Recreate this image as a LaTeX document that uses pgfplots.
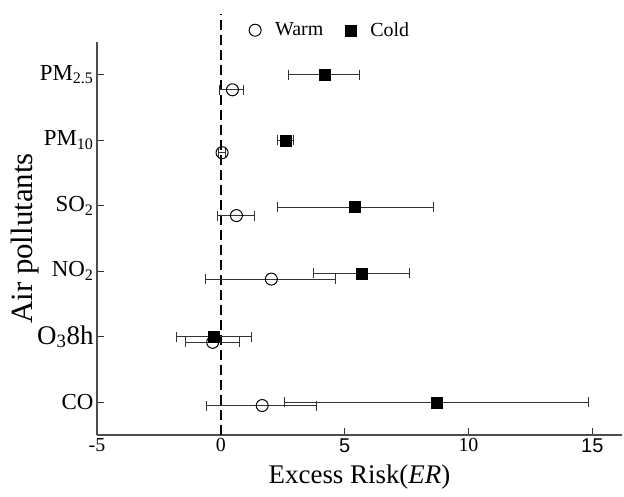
\documentclass[border=0pt]{standalone}
\usepackage{fontspec}
\setmainfont{Liberation Serif}
\setsansfont{Liberation Sans}
\usepackage{pgfplots}
\pgfplotsset{compat=1.18}
\begin{document}
\begin{tikzpicture}
\useasboundingbox (-97bp,-62bp) rectangle (527bp,435bp);
\begin{axis}[
 at={(0,0)}, anchor=south west,
 width=525bp, height=393bp, scale only axis,
 xmin=-5, xmax=16.2, ymin=-0.5, ymax=5.5,
 axis x line*=bottom, axis y line*=left,
 axis line style={line width=1.3bp, black!70},
 xtick={-5,0,5,10,15},
 xticklabels={{\textrm{-5}},{\textrm{0}},{\textsf{5}},{\textrm{10}},{\textsf{15}}},
 ytick={0,1,2,3,4,5},
 yticklabels={CO,{\fontsize{27}{30}\selectfont O\textsubscript{3}8h},NO\textsubscript{2},SO\textsubscript{2},PM\textsubscript{10},PM\textsubscript{2.5}},
 tick style={black!80, line width=1bp},
 major tick length=7bp,
 tick align=inside,
 xticklabel style={font=\fontsize{20}{22}\selectfont},
 yticklabel style={font=\fontsize{23}{26}\selectfont},
 xlabel={Excess Risk(\textit{ER})},
 ylabel={Air pollutants},
 xlabel style={font=\fontsize{27}{30}\selectfont, yshift=-6bp},
 ylabel style={font=\fontsize{31}{34}\selectfont},
 ylabel shift=-9bp,
 clip=false,
 legend columns=2,
 legend style={at={(0.444,1.03)}, anchor=center, draw=none, fill=none,
   font=\fontsize{20}{22}\selectfont,
   /tikz/every even column/.append style={column sep=20bp}},
]
% dashed reference line at ER = 0
\addplot[black, line width=2.2bp, dash pattern=on 10bp off 5bp, forget plot]
  coordinates {(0,-0.5) (0,5.92)};
% Warm
\addplot[only marks, mark=o, mark size=6bp, black, mark options={fill=white, line width=1bp},
  error bars/.cd, x dir=both, x explicit, error mark=|,
  error bar style={line width=1bp, black!80},
  error mark options={black!80, line width=1bp, mark size=5bp}]
  table[x=x, y=y, x error plus=ep, x error minus=em] {
x y ep em
0.47 4.77 0.43 0.54
0.05 3.81 0.15 0.15
0.63 2.85 0.73 0.76
2.04 1.88 2.61 2.64
-0.33 0.915 1.09 1.10
1.67 -0.05 2.20 2.23
};
\addlegendentry{\hspace{12bp}Warm}
% Cold
\addplot[only marks, mark=square*, mark size=5.5bp, black,
  error bars/.cd, x dir=both, x explicit, error mark=|,
  error bar style={line width=1bp, black!80},
  error mark options={black!80, line width=1bp, mark size=5bp}]
  table[x=x, y=y, x error plus=ep, x error minus=em] {
x y ep em
4.2 5 1.4 1.47
2.6 4 0.33 0.3
5.4 2.98 3.17 3.13
5.67 1.97 1.96 1.94
-0.27 1 1.5 1.53
8.7 0 6.14 6.14
};
\addlegendentry{\hspace{12bp}Cold}
\end{axis}
\end{tikzpicture}
\end{document}
